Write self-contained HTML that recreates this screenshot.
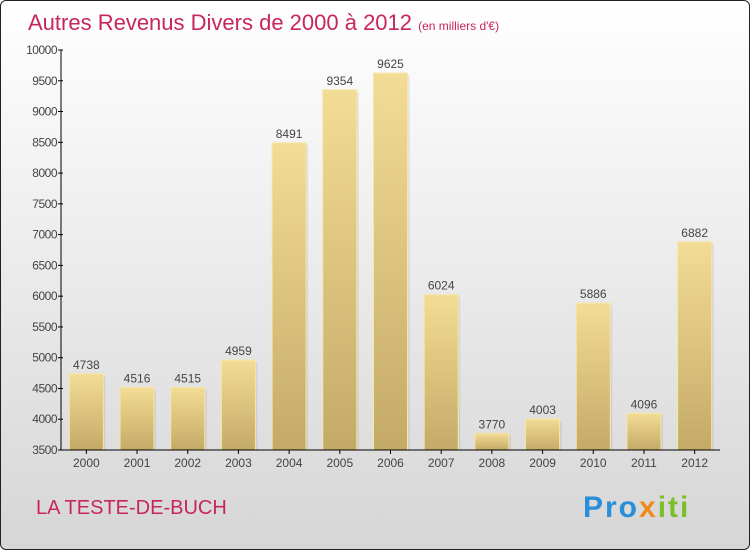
<!DOCTYPE html>
<html><head><meta charset="utf-8"><style>
body{margin:0;width:750px;height:550px;overflow:hidden;font-family:"Liberation Sans",sans-serif}
#wrap{position:absolute;left:0;top:0;width:748px;height:548px;border:1px solid #222;border-radius:6px;background:linear-gradient(#fff,#d6d6d6);overflow:hidden}
</style></head><body>
<div id="wrap">
<svg id="svg" width="750" height="550" style="position:absolute;left:-1px;top:-1px">
<defs><linearGradient id="bg" x1="0" y1="0" x2="0" y2="1"><stop offset="0" stop-color="#f3dc95"/><stop offset="1" stop-color="#c4aa67"/></linearGradient></defs>
<text x="28" y="30" font-size="22" fill="#c8255f">Autres Revenus Divers de 2000 à 2012 <tspan font-size="12">(en milliers d'€)</tspan></text>
<text x="36" y="514" font-size="20" fill="#c8255f">LA TESTE-DE-BUCH</text>
<text x="583" y="517" font-size="30" font-weight="bold" letter-spacing="2"><tspan fill="#2a8fd8">Pro</tspan><tspan fill="#f08a1c">x</tspan><tspan fill="#7bbf2a">iti</tspan></text>
<g id="g"></g>
</svg></div>
<script>
const years=["2000","2001","2002","2003","2004","2005","2006","2007","2008","2009","2010","2011","2012"];
const values=[4738,4516,4515,4959,8491,9354,9625,6024,3770,4003,5886,4096,6882];
const ticks=[3500,4000,4500,5000,5500,6000,6500,7000,7500,8000,8500,9000,9500,10000];
const NS="http://www.w3.org/2000/svg",g=document.getElementById('g');
const x0=61,x1=720,y0=450,y1=50,vmin=3500,vmax=10000;
const step=(x1-x0)/years.length;
const y=v=>y0-(v-vmin)/(vmax-vmin)*(y0-y1);
const xc=i=>x0+step*(i+0.5);
function mk(t,a,txt){const e=document.createElementNS(NS,t);for(const k in a)e.setAttribute(k,a[k]);if(txt!==undefined)e.textContent=txt;g.appendChild(e);return e;}
values.forEach((v,i)=>{
 const r=mk('rect',{x:xc(i)-17+2,y:y(v)+2,width:34,height:y0-y(v)-2,fill:'#000','fill-opacity':0.08});
 
 const b=mk('rect',{x:xc(i)-17,y:y(v),width:34,height:y0-y(v),fill:'url(#bg)',stroke:'#f7e6a6','stroke-width':1});
 
 const t=mk('text',{x:xc(i),y:y(v)-5,'text-anchor':'middle','font-size':12,fill:'#444'},String(v));
 
 const l=mk('text',{x:xc(i),y:y0+17,'text-anchor':'middle','font-size':12,fill:'#444'},years[i]);
 
 const tk=mk('line',{x1:xc(i),x2:xc(i),y1:y0,y2:y0+4,stroke:'#000'});
 
});
ticks.forEach(v=>{
 const t=mk('text',{x:x0-4,y:y(v)+4,'text-anchor':'end','font-size':12,fill:'#444','letter-spacing':'-0.5'},String(v));
 
 const l=mk('line',{x1:x0-3,x2:x0+2,y1:y(v),y2:y(v),stroke:'#000'});
 
});
const ya=mk('line',{x1:x0,x2:x0,y1:y1,y2:y0,stroke:'#000'});

const xa=mk('line',{x1:x0,x2:x1,y1:y0,y2:y0,stroke:'#000'});

</script>
</body></html>
